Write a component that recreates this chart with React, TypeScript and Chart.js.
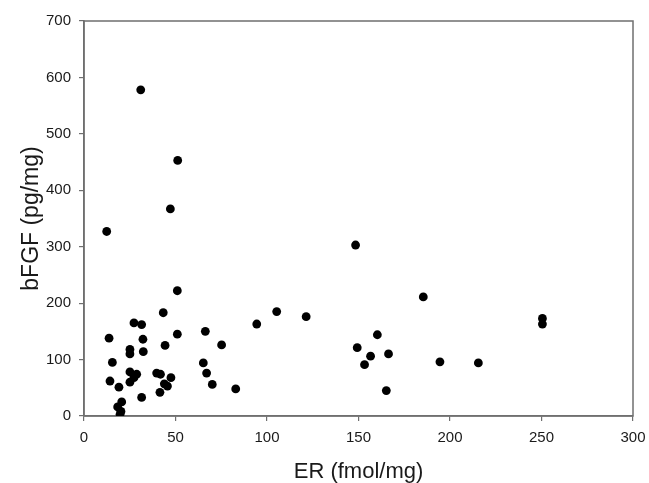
import React, { useEffect, useRef } from "react";
import { Chart, registerables } from "chart.js";

Chart.register(...registerables);

// ER (fmol/mg) values
const erValues: number[] = [
  31.0, 51.2, 47.2, 12.4,
  51.0, 43.3, 27.3, 31.5, 13.7, 32.2, 51.0, 66.3, 75.2, 25.1,
  25.1, 32.4, 44.3, 15.5, 65.2, 67.0, 25.1, 28.8, 27.3, 25.1,
  14.2, 19.1, 39.7, 41.8, 47.5, 43.9, 45.6, 41.5, 70.1, 82.9,
  31.5, 20.6, 18.4, 20.2, 19.7, 94.4,
  148.4, 185.4, 105.3, 121.4, 250.5, 250.5, 160.3, 149.3, 156.6, 153.3,
  166.4, 194.5, 215.5, 165.2,
];

// bFGF (pg/mg) values
const bfgfValues: number[] = [
  578, 453, 367, 327,
  222, 183, 165, 162, 138, 136, 145, 150, 126, 118,
  110, 114, 125, 95, 94, 76, 78, 74, 68, 60,
  62, 51, 76, 74, 68, 57, 53, 42, 56, 48,
  33, 25, 16, 8, 3, 163,
  303, 211, 185, 176, 173, 163, 144, 121, 106, 91,
  110, 96, 94, 45,
];

const xTitle = "ER (fmol/mg)";
const yTitle = "bFGF (pg/mg)";
const xMin = 0;
const xMax = 300;
const xStep = 50;
const yMin = 0;
const yMax = 700;
const yStep = 100;

const FONT = "'Liberation Sans', Arial, Helvetica, sans-serif";
const AXIS_COLOR = "#6f6f6f";

const framePlugin = {
  id: "frame",
  beforeDatasetsDraw(chart: any) {
    const { ctx, chartArea } = chart;
    ctx.save();
    ctx.strokeStyle = AXIS_COLOR;
    ctx.lineWidth = 1.5;
    ctx.strokeRect(
      chartArea.left,
      chartArea.top,
      chartArea.right - chartArea.left,
      chartArea.bottom - chartArea.top
    );
    ctx.restore();
  },
};

export default function App() {
  const canvasRef = useRef<HTMLCanvasElement | null>(null);

  useEffect(() => {
    if (!canvasRef.current) return;
    const points = erValues.map((x, i) => ({ x, y: bfgfValues[i] }));
    const chart = new Chart(canvasRef.current, {
      type: "scatter",
      data: {
        datasets: [
          {
            data: points,
            backgroundColor: "#000000",
            borderColor: "#000000",
            borderWidth: 0,
            pointRadius: 4.4,
            pointHoverRadius: 4.4,
          },
        ],
      },
      options: {
        animation: false,
        responsive: false,
        maintainAspectRatio: false,
        devicePixelRatio: 1,
        layout: { padding: { top: 21, right: 16, left: 0, bottom: 0 } },
        plugins: {
          legend: { display: false },
          tooltip: { enabled: false },
        },
        scales: {
          x: {
            type: "linear",
            min: xMin,
            max: xMax,
            afterFit: (scale: any) => {
              scale.height = 67;
              scale.paddingRight = 0;
              scale.paddingLeft = 0;
            },
            ticks: {
              stepSize: xStep,
              color: "#1a1a1a",
              padding: 8,
              font: { family: FONT, size: 15 },
            },
            grid: {
              display: true,
              drawOnChartArea: false,
              drawTicks: true,
              tickLength: 5,
              color: AXIS_COLOR,
              lineWidth: 1.2,
            },
            border: { display: true, color: AXIS_COLOR, width: 1.5 },
            title: {
              display: true,
              text: xTitle,
              color: "#1a1a1a",
              font: { family: FONT, size: 22, lineHeight: 1 },
              padding: { top: 0, bottom: 0 },
            },
          },
          y: {
            type: "linear",
            min: yMin,
            max: yMax,
            afterFit: (scale: any) => {
              scale.width = 84;
            },
            ticks: {
              stepSize: yStep,
              color: "#1a1a1a",
              padding: 8,
              font: { family: FONT, size: 15 },
            },
            grid: {
              display: true,
              drawOnChartArea: false,
              drawTicks: true,
              tickLength: 5,
              color: AXIS_COLOR,
              lineWidth: 1.2,
            },
            border: { display: true, color: AXIS_COLOR, width: 1.5 },
            title: {
              display: true,
              text: yTitle,
              color: "#1a1a1a",
              font: { family: FONT, size: 23, lineHeight: 1 },
              padding: { top: 20, bottom: 0 },
            },
          },
        },
      },
      plugins: [framePlugin],
    });
    return () => {
      chart.destroy();
    };
  }, []);

  return (
    <div
      style={{
        position: "fixed",
        left: 0,
        top: 0,
        width: 649,
        height: 483,
        background: "#ffffff",
      }}
    >
      <canvas ref={canvasRef} width={649} height={483} style={{ width: 649, height: 483 }} />
    </div>
  );
}
